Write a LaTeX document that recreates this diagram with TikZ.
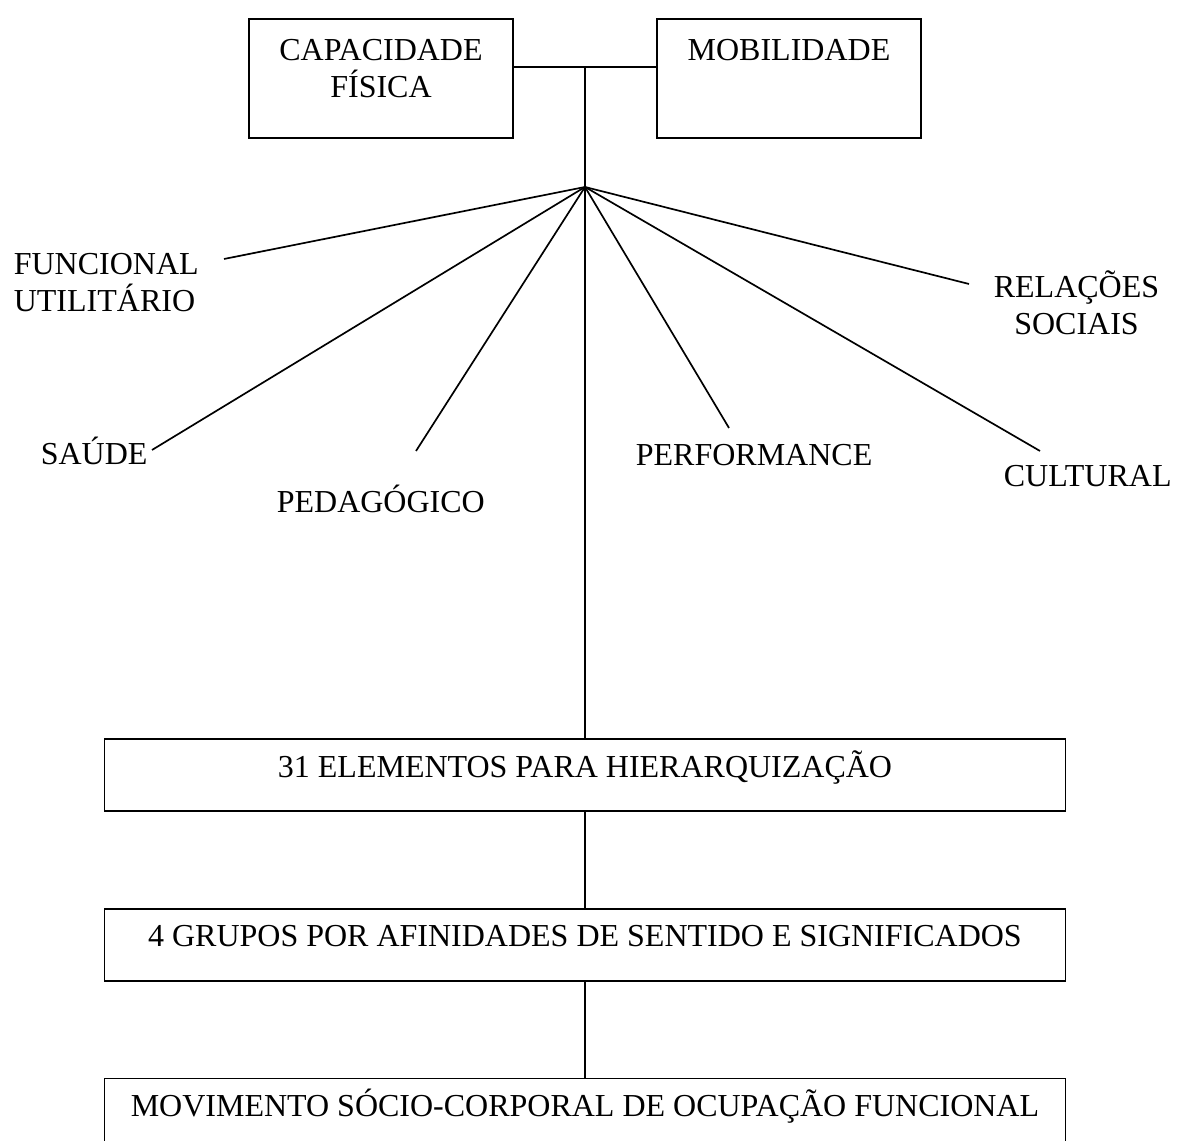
\documentclass[tikz,border=0pt]{standalone}
\usepackage{fontspec}
\setmainfont{Liberation Serif}
\usepackage{tikz}
\usetikzlibrary{positioning}

\begin{document}
\begin{tikzpicture}[
  font=\fontsize{22.76}{26.32}\selectfont,
  line width=1.2pt,
  topbox/.style={draw, minimum width=6.6cm, minimum height=2.975cm},
  box/.style={draw, minimum width=24.025cm, minimum height=1.8cm, text height=0.75em, text depth=0.45em},
  txt/.style={inner sep=0pt},
]
\useasboundingbox (0,0) rectangle (29.425,28.5);
\node[topbox] (capbox) at (9.525,26.5375) {};
\node[topbox] (mobbox) at (19.725,26.5375) {};
\node[txt, align=center, anchor=north] (cap) at (9.525,27.55) {CAPACIDADE\\FÍSICA};
\node[txt, anchor=north] (mob) at (19.725,27.55) {MOBILIDADE};

\coordinate (top) at (14.625,26.825);
\coordinate (hub) at (14.625,23.825);

\node[txt, align=left, anchor=west] (fu) at (0.325,21.425) {FUNCIONAL\\UTILITÁRIO};
\node[txt, anchor=base west] (sa) at (1.0,16.875) {SAÚDE};
\node[txt, anchor=base west] (pe) at (6.9,15.675) {PEDAGÓGICO};
\node[txt, anchor=base west] (pf) at (15.875,16.85) {PERFORMANCE};
\node[txt, anchor=base west] (cu) at (25.075,16.325) {CULTURAL};
\node[txt, align=center] (re) at (26.9125,20.925) {RELAÇÕES\\SOCIAIS};

\coordinate (fuend) at (5.6,22.025);
\coordinate (saend) at (3.8,17.25);
\coordinate (peend) at (10.4,17.225);
\coordinate (pfend) at (18.225,17.8);
\coordinate (cuend) at (26.0,17.225);
\coordinate (reend) at (24.225,21.4);

\node[box] (el) at (14.625,9.125) {31 ELEMENTOS PARA HIERARQUIZAÇÃO};
\node[box, below=2.4cm of el] (gr) {4 GRUPOS POR AFINIDADES DE SENTIDO E SIGNIFICADOS};
\node[box, below=2.4cm of gr] (mv) {MOVIMENTO SÓCIO-CORPORAL DE OCUPAÇÃO FUNCIONAL};

\draw (capbox.east |- top) -- (mobbox.west |- top);
\draw (top) -- (hub) -- (el.north);
\draw (hub) -- (fuend);
\draw (hub) -- (saend);
\draw (hub) -- (peend);
\draw (hub) -- (pfend);
\draw (hub) -- (cuend);
\draw (hub) -- (reend);
\draw (el) -- (gr);
\draw (gr) -- (mv);
\end{tikzpicture}
\end{document}
